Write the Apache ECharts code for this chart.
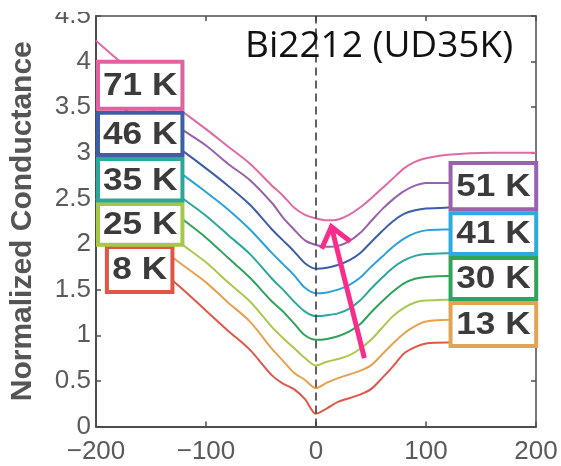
<!DOCTYPE html>
<html><head><meta charset="utf-8">
<script src="https://cdn.jsdelivr.net/npm/echarts@6/dist/echarts.min.js"></script>
<style>html,body{margin:0;padding:0;background:#fff}#c{width:561px;height:466px}</style>
</head><body><div id="c"></div>
<script>
// ---- data (bias in mV, normalized conductance, offset curves) ----
const bias = [-200,-180,-160,-140,-120,-100,-80,-60,-40,-30,-20,-10,0,10,20,30,40,50,60,70,80,90,100,120,160,200];
const g8K  = [2.25,2.06,1.87,1.70,1.49,1.27,1.05,0.84,0.56,0.47,0.41,0.30,0.14,0.20,0.27,0.31,0.35,0.41,0.53,0.66,0.80,0.87,0.91,0.92,0.92,0.92];
const g13K = [2.50,2.31,2.12,1.94,1.76,1.58,1.36,1.15,0.85,0.72,0.59,0.51,0.42,0.48,0.53,0.57,0.61,0.67,0.79,0.91,1.02,1.10,1.15,1.17,1.17,1.17];
const g25K = [2.72,2.53,2.35,2.16,1.98,1.80,1.58,1.37,1.09,0.97,0.86,0.75,0.67,0.71,0.74,0.78,0.85,0.95,1.08,1.21,1.30,1.36,1.38,1.39,1.40,1.40];
const g30K = [2.98,2.80,2.62,2.44,2.26,2.07,1.85,1.63,1.37,1.26,1.13,1.00,0.95,0.96,0.99,1.04,1.12,1.25,1.37,1.48,1.57,1.62,1.64,1.65,1.65,1.65];
const g35K = [3.20,3.02,2.84,2.66,2.49,2.31,2.10,1.89,1.62,1.50,1.37,1.26,1.21,1.22,1.24,1.29,1.38,1.51,1.63,1.74,1.82,1.87,1.89,1.90,1.91,1.91];
const g41K = [3.45,3.27,3.10,2.92,2.75,2.57,2.38,2.16,1.90,1.78,1.66,1.52,1.46,1.47,1.50,1.55,1.63,1.75,1.86,1.97,2.06,2.12,2.15,2.16,2.17,2.17];
const g46K = [3.71,3.53,3.36,3.18,3.01,2.83,2.64,2.43,2.16,2.04,1.92,1.79,1.73,1.74,1.77,1.82,1.90,2.02,2.14,2.25,2.33,2.37,2.39,2.40,2.41,2.41];
const g51K = [3.92,3.75,3.57,3.40,3.24,3.08,2.88,2.70,2.45,2.29,2.16,2.04,1.99,1.97,1.98,2.03,2.12,2.25,2.38,2.49,2.58,2.64,2.67,2.67,2.68,2.68];
const g71K = [4.23,4.02,3.82,3.62,3.44,3.26,3.07,2.88,2.64,2.53,2.40,2.32,2.28,2.26,2.27,2.32,2.40,2.50,2.61,2.72,2.83,2.90,2.94,2.98,3.00,3.00];
const curveNames = ['8 K','13 K','25 K','30 K','35 K','41 K','46 K','51 K','71 K'];
const curveValues = [g8K,g13K,g25K,g30K,g35K,g41K,g46K,g51K,g71K];
const zeroBiasLine = [[0, 0], [0, 4.5]];
const xTickValues = [-200,-100,0,100,200];
const yTickValues = [0,0.5,1,1.5,2,2.5,3,3.5,4,4.5];
const titleText = 'Bi2212 (UD35K)';
const yTitle = 'Normalized Conductance';
// arrow (data coords): tail -> tip
const arrowTail = [44, 0.75];
const arrowTip = [14, 2.19];

// ---- styles ----
const lineColors = ['#e0574a','#e6a24f','#a9c94f','#2fa35a','#2aa89b','#2ca2da','#3c5ea8','#9862ab','#e06aa5'];
const boxColors = {'71 K':'#e0629f','46 K':'#3d5fa9','35 K':'#2ca89b','25 K':'#a6c84a','8 K':'#e05545',
                   '51 K':'#9b60ae','41 K':'#2daae0','30 K':'#2fa55a','13 K':'#e0a452'};
// label boxes in data coordinates [x0, x1, yBottom, yTop]
const labelBoxes = [
  ['8 K',  -191.9, -128.7, 1.453, 1.99],
  ['25 K', -200, -119.6, 1.97, 2.46],
  ['35 K', -200, -119.6, 2.455, 2.955],
  ['46 K', -200, -119.6, 2.955, 3.46],
  ['71 K', -200, -119.6, 3.46, 4.02],
  ['13 K', 120.5, 202, 0.86, 1.376],
  ['30 K', 120.5, 202, 1.376, 1.87],
  ['41 K', 120.5, 202, 1.87, 2.36],
  ['51 K', 120.5, 202, 2.36, 2.91]
];

const chart = echarts.init(document.getElementById('c'), null, {renderer:'canvas'});
const axisCol = '#4d4d4d';
const labelFont = {fontFamily:'Liberation Sans', fontSize:26, color:'#5a5a5a'};
const series = curveValues.map((vals, i) => ({
  name: curveNames[i], type:'line', xAxisIndex:0, yAxisIndex:0,
  data: bias.map((x, j) => [x, vals[j]]),
  showSymbol:false, smooth:0.3,
  lineStyle:{width:2, color:lineColors[i]}, itemStyle:{color:lineColors[i]}, z:2
}));
series.push({
  name:'zero', type:'line', xAxisIndex:0, yAxisIndex:0, data:zeroBiasLine,
  showSymbol:false, silent:true, z:5,
  lineStyle:{type:[8,5], color:'#3a3a3a', width:1.6}
});
const option = {
  animation:false,
  backgroundColor:'#fff',
  grid:{left:92, right:25, top:16, bottom:39.5, containLabel:false},
  xAxis:[
    {type:'value', min:-200, max:200, interval:100, position:'bottom',
     axisLine:{onZero:false, lineStyle:{color:axisCol, width:2}},
     axisTick:{inside:true, length:5, lineStyle:{color:axisCol, width:1.5}},
     axisLabel:{...labelFont, margin:12, formatter:v => String(v).replace('-', '\u2212')},
     splitLine:{show:false}},
    {type:'value', min:-200, max:200, interval:100, position:'top',
     axisLine:{onZero:false, lineStyle:{color:axisCol, width:1.5}},
     axisTick:{inside:true, length:5, lineStyle:{color:axisCol, width:1.5}},
     axisLabel:{show:false}, splitLine:{show:false}}
  ],
  yAxis:[
    {type:'value', min:0, max:4.5, interval:0.5, position:'left',
     name:yTitle, nameLocation:'middle', nameGap:58,
     nameTextStyle:{fontFamily:'Liberation Sans', fontWeight:'bold', fontSize:30, color:'#555'},
     axisLine:{onZero:false, lineStyle:{color:axisCol, width:2}},
     axisTick:{inside:true, length:5, lineStyle:{color:axisCol, width:1.5}},
     axisLabel:{...labelFont, margin:5},
     splitLine:{show:false}},
    {type:'value', min:0, max:4.5, interval:0.5, position:'right',
     axisLine:{onZero:false, lineStyle:{color:axisCol, width:1.5}},
     axisTick:{inside:true, length:5, lineStyle:{color:axisCol, width:1.5}},
     axisLabel:{show:false}, splitLine:{show:false}}
  ],
  series
};
chart.setOption(option);

function toPx(p){ return chart.convertToPixel({seriesIndex:0}, p); }
const gfx = [];
// white strip at the very top-left (reference top is cropped there)
gfx.push({type:'rect', shape:{x:0, y:0, width:90, height:12}, style:{fill:'#fff'}, z:100});
labelBoxes.forEach(([txt, x0, x1, y0, y1], k) => {
  const a = toPx([x0, y1]), b = toPx([x1, y0]);
  const lw = 4;
  gfx.push({type:'rect', z:110 + k,
    shape:{x:a[0] + lw/2, y:a[1] + lw/2, width:b[0] - a[0] - lw, height:b[1] - a[1] - lw},
    style:{fill:'#fff', stroke:boxColors[txt], lineWidth:lw}});
  gfx.push({type:'text', z:130 + k, x:(a[0] + b[0]) / 2, y:(a[1] + b[1]) / 2 + 1, scaleX:1.1,
    style:{text:txt, font:'bold 32px "Liberation Sans"', fill:'#3b3b3b',
           textAlign:'center', textVerticalAlign:'middle', align:'center', verticalAlign:'middle'}});
});
// title
gfx.push({type:'text', z:150, x:245, y:46,
  style:{text:titleText, font:'37px "Open Sans"', fill:'#111',
         textAlign:'left', textVerticalAlign:'middle', align:'left', verticalAlign:'middle'}});
// arrow
const t0 = toPx(arrowTail), t1 = toPx(arrowTip);
let dx = t1[0] - t0[0], dy = t1[1] - t0[1];
const L = Math.hypot(dx, dy); dx /= L; dy /= L;
const bx = -dx, by = -dy, ang = 38 * Math.PI / 180, al = 24;
const w1 = [t1[0] + al * (bx * Math.cos(ang) - by * Math.sin(ang)), t1[1] + al * (bx * Math.sin(ang) + by * Math.cos(ang))];
const w2 = [t1[0] + al * (bx * Math.cos(-ang) - by * Math.sin(-ang)), t1[1] + al * (bx * Math.sin(-ang) + by * Math.cos(-ang))];
const arrowCol = '#fb2d8b';
gfx.push({type:'polyline', z:160, shape:{points:[t0, [t1[0] - dx * 1.5, t1[1] - dy * 1.5]]},
  style:{stroke:arrowCol, lineWidth:5, fill:null}});
gfx.push({type:'polyline', z:161, shape:{points:[w1, t1, w2]},
  style:{stroke:arrowCol, lineWidth:5, fill:null, lineJoin:'miter'}});
chart.setOption({graphic:{elements:gfx}});
</script>
</body></html>
